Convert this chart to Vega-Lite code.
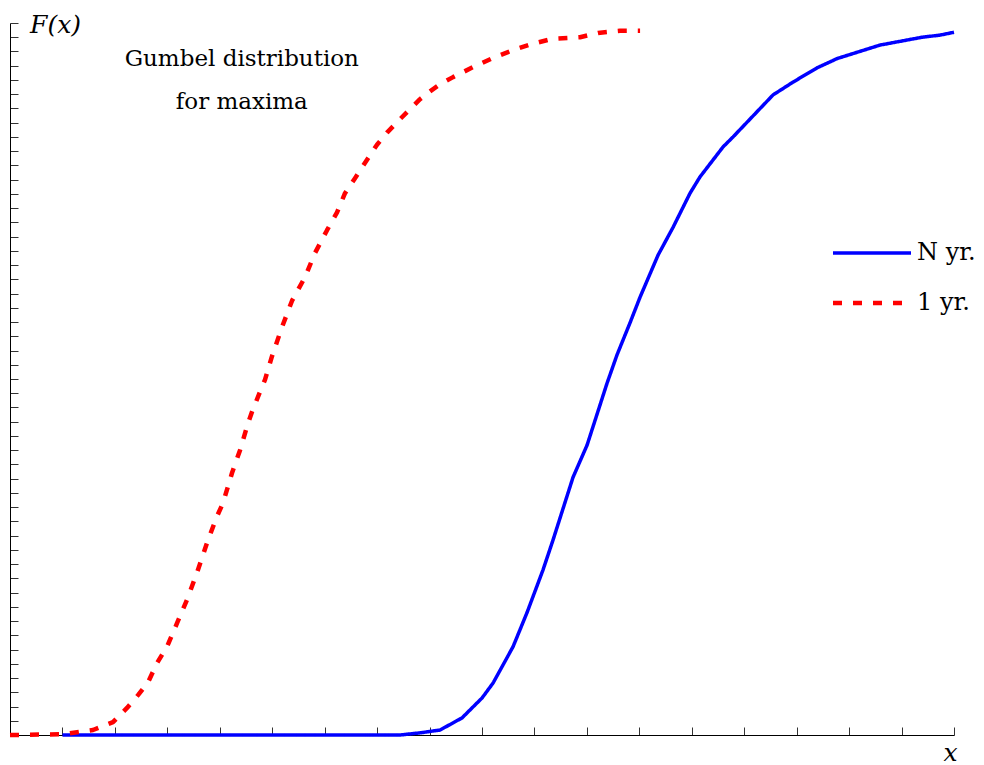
{
  "$schema": "https://vega.github.io/schema/vega-lite/v6.json",
  "width": 944,
  "height": 712,
  "autosize": {"type": "none"},
  "padding": {"left": 10, "top": 23, "right": 30, "bottom": 30},
  "background": "white",
  "config": {
    "view": {"stroke": null},
    "font": "DejaVu Serif",
    "axis": {"grid": false, "labels": false, "domainColor": "#000000", "domainWidth": 1, "tickColor": "#333333", "tickWidth": 1, "tickSize": -8,
      "titleFont": "DejaVu Serif", "titleFontStyle": "italic", "titleFontWeight": "normal", "titleFontSize": 25, "titleColor": "#000000", "titleAngle": 0}
  },
  "data": {"values": [
    {"series": "N yr.", "x": 1.0, "F": 0},
    {"series": "N yr.", "x": 7.437, "F": 0},
    {"series": "N yr.", "x": 7.818, "F": 0.003},
    {"series": "N yr.", "x": 8.2, "F": 0.007},
    {"series": "N yr.", "x": 8.619, "F": 0.024},
    {"series": "N yr.", "x": 9.001, "F": 0.052},
    {"series": "N yr.", "x": 9.211, "F": 0.073},
    {"series": "N yr.", "x": 9.592, "F": 0.124},
    {"series": "N yr.", "x": 9.859, "F": 0.172},
    {"series": "N yr.", "x": 10.164, "F": 0.232},
    {"series": "N yr.", "x": 10.355, "F": 0.274},
    {"series": "N yr.", "x": 10.736, "F": 0.362},
    {"series": "N yr.", "x": 11.003, "F": 0.407},
    {"series": "N yr.", "x": 11.384, "F": 0.494},
    {"series": "N yr.", "x": 11.575, "F": 0.534},
    {"series": "N yr.", "x": 11.823, "F": 0.579},
    {"series": "N yr.", "x": 12.014, "F": 0.615},
    {"series": "N yr.", "x": 12.357, "F": 0.674},
    {"series": "N yr.", "x": 12.643, "F": 0.713},
    {"series": "N yr.", "x": 12.967, "F": 0.761},
    {"series": "N yr.", "x": 13.158, "F": 0.784},
    {"series": "N yr.", "x": 13.597, "F": 0.826},
    {"series": "N yr.", "x": 13.787, "F": 0.84},
    {"series": "N yr.", "x": 14.55, "F": 0.899},
    {"series": "N yr.", "x": 14.931, "F": 0.917},
    {"series": "N yr.", "x": 15.389, "F": 0.937},
    {"series": "N yr.", "x": 15.77, "F": 0.95},
    {"series": "N yr.", "x": 16.59, "F": 0.969},
    {"series": "N yr.", "x": 17.391, "F": 0.98},
    {"series": "N yr.", "x": 17.735, "F": 0.983},
    {"series": "N yr.", "x": 18.0, "F": 0.987},
    {"series": "1 yr.", "x": 0.0, "F": 0},
    {"series": "1 yr.", "x": 1.0, "F": 0.001},
    {"series": "1 yr.", "x": 1.583, "F": 0.007},
    {"series": "1 yr.", "x": 1.964, "F": 0.018},
    {"series": "1 yr.", "x": 2.231, "F": 0.038},
    {"series": "1 yr.", "x": 2.441, "F": 0.056},
    {"series": "1 yr.", "x": 2.632, "F": 0.074},
    {"series": "1 yr.", "x": 2.803, "F": 0.101},
    {"series": "1 yr.", "x": 2.994, "F": 0.124},
    {"series": "1 yr.", "x": 3.185, "F": 0.157},
    {"series": "1 yr.", "x": 3.375, "F": 0.19},
    {"series": "1 yr.", "x": 3.566, "F": 0.228},
    {"series": "1 yr.", "x": 3.776, "F": 0.274},
    {"series": "1 yr.", "x": 3.947, "F": 0.307},
    {"series": "1 yr.", "x": 4.062, "F": 0.326},
    {"series": "1 yr.", "x": 4.233, "F": 0.368},
    {"series": "1 yr.", "x": 4.386, "F": 0.4},
    {"series": "1 yr.", "x": 4.539, "F": 0.438},
    {"series": "1 yr.", "x": 4.615, "F": 0.454},
    {"series": "1 yr.", "x": 4.767, "F": 0.482},
    {"series": "1 yr.", "x": 4.863, "F": 0.499},
    {"series": "1 yr.", "x": 4.996, "F": 0.532},
    {"series": "1 yr.", "x": 5.187, "F": 0.573},
    {"series": "1 yr.", "x": 5.378, "F": 0.61},
    {"series": "1 yr.", "x": 5.625, "F": 0.643},
    {"series": "1 yr.", "x": 5.816, "F": 0.677},
    {"series": "1 yr.", "x": 6.045, "F": 0.709},
    {"series": "1 yr.", "x": 6.236, "F": 0.734},
    {"series": "1 yr.", "x": 6.388, "F": 0.761},
    {"series": "1 yr.", "x": 6.579, "F": 0.782},
    {"series": "1 yr.", "x": 6.808, "F": 0.808},
    {"series": "1 yr.", "x": 6.998, "F": 0.829},
    {"series": "1 yr.", "x": 7.189, "F": 0.846},
    {"series": "1 yr.", "x": 7.437, "F": 0.865},
    {"series": "1 yr.", "x": 7.628, "F": 0.879},
    {"series": "1 yr.", "x": 7.818, "F": 0.893},
    {"series": "1 yr.", "x": 8.009, "F": 0.904},
    {"series": "1 yr.", "x": 8.2, "F": 0.914},
    {"series": "1 yr.", "x": 8.448, "F": 0.924},
    {"series": "1 yr.", "x": 8.829, "F": 0.938},
    {"series": "1 yr.", "x": 9.211, "F": 0.951},
    {"series": "1 yr.", "x": 9.592, "F": 0.962},
    {"series": "1 yr.", "x": 9.973, "F": 0.971},
    {"series": "1 yr.", "x": 10.355, "F": 0.978},
    {"series": "1 yr.", "x": 10.87, "F": 0.98},
    {"series": "1 yr.", "x": 11.213, "F": 0.986},
    {"series": "1 yr.", "x": 11.632, "F": 0.989},
    {"series": "1 yr.", "x": 12.014, "F": 0.989}
  ]},
  "layer": [
    {
      "mark": {"type": "line", "strokeCap": "butt", "strokeJoin": "round"},
      "encoding": {
        "x": {"field": "x", "type": "quantitative", "scale": {"domain": [0, 18], "nice": false, "zero": false},
          "axis": {"tickCount": 18, "title": "x", "titleX": 940, "titleY": 25, "titleAlign": "center", "titleBaseline": "alphabetic"}},
        "y": {"field": "F", "type": "quantitative", "scale": {"domain": [0, 1], "nice": false},
          "axis": {"tickCount": 50, "title": "F(x)", "titleX": 45, "titleY": 9, "titleAlign": "center", "titleBaseline": "alphabetic"}},
        "color": {"field": "series", "type": "nominal", "sort": ["N yr.", "1 yr."],
          "scale": {"domain": ["N yr.", "1 yr."], "range": ["#0000ff", "#ff0000"]},
          "legend": {"orient": "none", "legendX": 850, "legendY": 218, "title": null, "symbolType": "M-13,0H13", "symbolSize": 36, "symbolStrokeWidth": 4,
            "labelFont": "DejaVu Serif", "labelFontSize": 24, "labelColor": "#000000", "labelOffset": 33, "rowPadding": 26}},
        "strokeDash": {"field": "series", "type": "nominal", "sort": ["N yr.", "1 yr."],
          "scale": {"domain": ["N yr.", "1 yr."], "range": [[1, 0], [9, 11]]},
          "legend": {"orient": "none", "legendX": 850, "legendY": 218, "title": null, "symbolType": "M-13,0H13", "symbolSize": 36, "symbolStrokeWidth": 4,
            "labelFont": "DejaVu Serif", "labelFontSize": 24, "labelColor": "#000000", "labelOffset": 33, "rowPadding": 26}},
        "strokeWidth": {"field": "series", "type": "nominal", "scale": {"domain": ["N yr.", "1 yr."], "range": [3.5, 4.5]}, "legend": null},
        "order": {"field": "x", "type": "quantitative"}
      }
    },
    {
      "data": {"values": [{"label": "annotation"}]},
      "mark": {"type": "text", "font": "DejaVu Serif", "fontSize": 23, "align": "center", "baseline": "alphabetic", "lineHeight": 43, "color": "#000000"},
      "encoding": {
        "x": {"datum": 4.42, "type": "quantitative"},
        "y": {"datum": 0.94, "type": "quantitative"},
        "text": {"value": ["Gumbel distribution", "for maxima"]}
      }
    }
  ]
}
